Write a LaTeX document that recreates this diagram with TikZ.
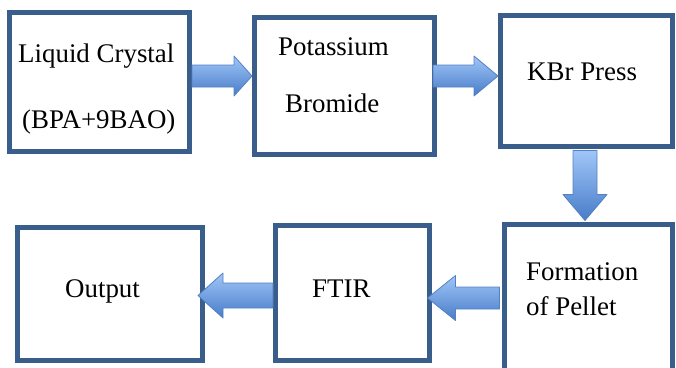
\documentclass[tikz,border=0pt]{standalone}
\usepackage{fontspec}
\setmainfont{Liberation Serif}
\usetikzlibrary{calc}

\definecolor{boxblue}{RGB}{58,94,140}
\definecolor{arrowline}{RGB}{84,128,196}
\definecolor{arrowtop}{RGB}{160,198,248}
\definecolor{arrowbot}{RGB}{72,124,200}

\tikzset{
    fa shaft/.store in=\fashaft, fa shaft=11bp,
    fa head/.store in=\fahead, fa head=20bp,
    fa len/.store in=\falen, fa len=22bp,
    fat arrow/.style={draw=arrowline, line width=0.8bp, line join=round,
        top color=arrowtop, bottom color=arrowbot,
        to path={
            ($(\tikztostart)!\fashaft!90:(\tikztotarget)$)
            -- ($(\tikztotarget)!\falen!(\tikztostart)!\fashaft!-90:(\tikztostart)$)
            -- ($(\tikztotarget)!\falen!(\tikztostart)!\fahead!-90:(\tikztostart)$)
            -- (\tikztotarget)
            -- ($(\tikztotarget)!\falen!(\tikztostart)!\fahead!90:(\tikztostart)$)
            -- ($(\tikztotarget)!\falen!(\tikztostart)!\fashaft!90:(\tikztostart)$)
            -- ($(\tikztostart)!\fashaft!-90:(\tikztotarget)$)
            -- cycle
        }},
    stagebox/.style={draw=boxblue, line width=5bp, fill=white, inner sep=0pt},
    stagetext/.style={anchor=base west, inner sep=0pt, font=\fontsize{27}{32}\selectfont}
}

\begin{document}
\begin{tikzpicture}[x=1bp, y=-1bp]

    \useasboundingbox (0, 0) rectangle (676, 367);

    % Boxes
    \node[stagebox, minimum width=180bp, minimum height=139bp] (lc) at (99.5, 82) {};
    \node[stagebox, minimum width=180bp, minimum height=137bp] (kbr) at (344.5, 86) {};
    \node[stagebox, minimum width=172bp, minimum height=131bp] (press) at (586.5, 81) {};
    \node[stagebox, minimum width=168bp, minimum height=146bp] (pellet) at (588.5, 297.5) {};
    \node[stagebox, minimum width=154bp, minimum height=135bp] (ftir) at (352.5, 293) {};
    \node[stagebox, minimum width=185bp, minimum height=133bp] (out) at (110, 294) {};

    % Texts
    \node[stagetext] (lctop) at (18, 62) {Liquid Crystal};
    \node[stagetext] (lcbot) at (22, 128) {(BPA+9BAO)};
    \node[stagetext] (kbrtop) at (278, 55) {Potassium};
    \node[stagetext] (kbrbot) at (285, 112) {Bromide};
    \node[stagetext] (presstxt) at (527, 80) {KBr Press};
    \node[stagetext] (pellettop) at (526, 280) {Formation};
    \node[stagetext] (pelletbot) at (526, 315) {of Pellet};
    \node[stagetext] (ftirtxt) at (312, 297) {FTIR};
    \node[stagetext] (outtxt) at (65, 297) {Output};

    % Block arrows
    \draw[fat arrow, fa len=18bp] ([yshift=6bp]lc.east) to ([yshift=10bp]kbr.west);
    \draw[fat arrow, fa len=24bp] ([xshift=-4bp, yshift=10bp]kbr.east) to ([yshift=5bp]press.west);
    \draw[fat arrow, fa shaft=12bp, fa head=22bp, fa len=26bp]
        ([xshift=-1.5bp, yshift=-1.5bp]press.south) to ([xshift=-3.5bp, yshift=1.5bp]pellet.north);
    \draw[fat arrow, fa head=22.5bp, fa len=28bp]
        ([xshift=-2.5bp, yshift=-0.5bp]pellet.west) to ([xshift=-4.5bp, yshift=-5bp]ftir.east);
    \draw[fat arrow, fa shaft=12.5bp, fa head=22.5bp, fa len=25bp]
        ([yshift=-2.5bp]ftir.west) to ([xshift=-7bp, yshift=-1.5bp]out.east);

\end{tikzpicture}
\end{document}
